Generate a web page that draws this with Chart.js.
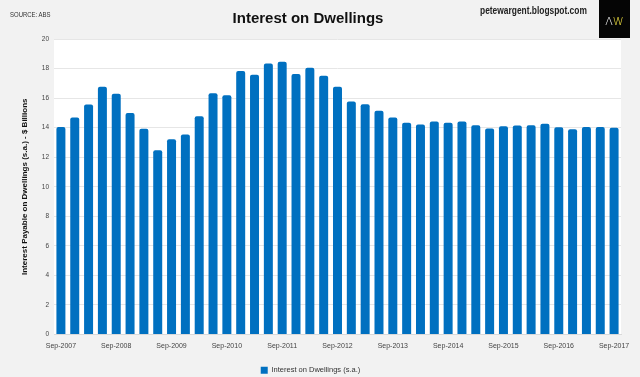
<!DOCTYPE html>
<html>
<head>
<meta charset="utf-8">
<script src="https://cdn.jsdelivr.net/npm/chart.js@4.4.1/dist/chart.umd.min.js"></script>
<style>
    html, body { margin: 0; padding: 0; background: #f2f2f2; }
    #wrap { position: relative; width: 640px; height: 377px; font-family: 'Liberation Sans', Arial, sans-serif; }
    #chart { position: absolute; left: 0; top: 0; }
    .source { position: absolute; left: 10px; top: 12px; font-size: 6.5px; line-height: 1; color: #333; transform: scaleX(0.92); transform-origin: left; }
    .title { position: absolute; left: 0; width: 616px; top: 10px; text-align: center; font-size: 15px; line-height: 1; font-weight: bold; color: #111; }
    .site { position: absolute; left: 480px; top: 6px; font-size: 10px; line-height: 1; font-weight: bold; color: #222; transform: scaleX(0.84); transform-origin: left; }
    .logo { position: absolute; left: 599px; top: 0; width: 31px; height: 38px; background: #050505; }
    .logo div { position: absolute; left: 0; width: 31px; top: 16px; text-align: center; font-family: 'DejaVu Sans', sans-serif; font-weight: 200; font-size: 11px; line-height: 1; color: #fff; }
    .logo span { color: #f0e040; }
</style>
</head>
<body>
<div id="wrap">
    <canvas id="chart" width="640" height="377"></canvas>
    <div class="source">SOURCE: ABS</div>
    <div class="title">Interest on Dwellings</div>
    <div class="site">petewargent.blogspot.com</div>
    <div class="logo"><div>&Lambda;<span>W</span></div></div>
</div>
<script>
// quarterly data, Sep-2007 .. Sep-2017
const quarters = ['Sep-2007','Dec-2007','Mar-2008','Jun-2008','Sep-2008','Dec-2008','Mar-2009','Jun-2009',
    'Sep-2009','Dec-2009','Mar-2010','Jun-2010','Sep-2010','Dec-2010','Mar-2011','Jun-2011',
    'Sep-2011','Dec-2011','Mar-2012','Jun-2012','Sep-2012','Dec-2012','Mar-2013','Jun-2013',
    'Sep-2013','Dec-2013','Mar-2014','Jun-2014','Sep-2014','Dec-2014','Mar-2015','Jun-2015',
    'Sep-2015','Dec-2015','Mar-2016','Jun-2016','Sep-2016','Dec-2016','Mar-2017','Jun-2017','Sep-2017'];

const interestValues = [14.05, 14.69, 15.57, 16.77, 16.29, 15.00, 13.92, 12.47,
    13.22, 13.54, 14.78, 16.32, 16.20, 17.83, 17.58, 18.35,
    18.46, 17.63, 18.05, 17.51, 16.77, 15.77, 15.59, 15.14,
    14.69, 14.33, 14.21, 14.42, 14.33, 14.42, 14.17, 13.94,
    14.10, 14.15, 14.17, 14.26, 14.03, 13.90, 14.05, 14.05, 13.99];

const seriesName = 'Interest on Dwellings (s.a.)';
const yAxisTitle = 'Interest Payable on Dwellings (s.a.) - $ Billions';

const chartFont = "'Liberation Sans', Arial, sans-serif";

// white plot background
const plotBackground = {
    id: 'plotBackground',
    beforeDraw(chart) {
        const a = chart.chartArea;
        const ctx = chart.ctx;
        ctx.save();
        ctx.fillStyle = '#ffffff';
        ctx.fillRect(a.left, a.top, a.right - a.left, a.bottom - a.top);
        ctx.restore();
    }
};

new Chart(document.getElementById('chart'), {
    type: 'bar',
    data: {
        labels: quarters,
        datasets: [{
            label: seriesName,
            data: interestValues,
            backgroundColor: '#0070c0',
            borderWidth: 0,
            borderRadius: { topLeft: 2, topRight: 2 },
            borderSkipped: 'bottom',
            barPercentage: 0.65,
            categoryPercentage: 1
        }]
    },
    options: {
        responsive: false,
        animation: false,
        layout: { padding: { top: 39, right: 19, left: 0, bottom: -7 } },
        plugins: {
            legend: {
                position: 'bottom',
                labels: {
                    boxWidth: 7,
                    boxHeight: 7,
                    padding: 4,
                    color: '#333',
                    font: { family: chartFont, size: 7.5 }
                }
            },
            tooltip: { enabled: false }
        },
        scales: {
            x: {
                offset: true,
                afterFit: function(scale) { scale.height = 28; },
                grid: { display: false, drawTicks: false },
                border: { color: '#d9d9d9' },
                ticks: {
                    autoSkip: false,
                    maxRotation: 0,
                    color: '#444',
                    padding: 7,
                    font: { family: chartFont, size: 7 },
                    callback: function(value, index) {
                        return index % 4 === 0 ? quarters[index] : '';
                    }
                }
            },
            y: {
                min: 0,
                max: 20,
                afterFit: function(scale) { scale.width = 54; },
                grid: { color: '#e6e6e6', drawTicks: false },
                border: { display: false },
                ticks: {
                    stepSize: 2,
                    color: '#444',
                    padding: 5,
                    font: { family: chartFont, size: 6.5 }
                },
                title: {
                    display: true,
                    text: yAxisTitle,
                    color: '#111',
                    padding: { top: 20, bottom: 0 },
                    font: { family: chartFont, size: 8, weight: 'bold' }
                }
            }
        }
    },
    plugins: [plotBackground]
});
</script>
</body>
</html>
